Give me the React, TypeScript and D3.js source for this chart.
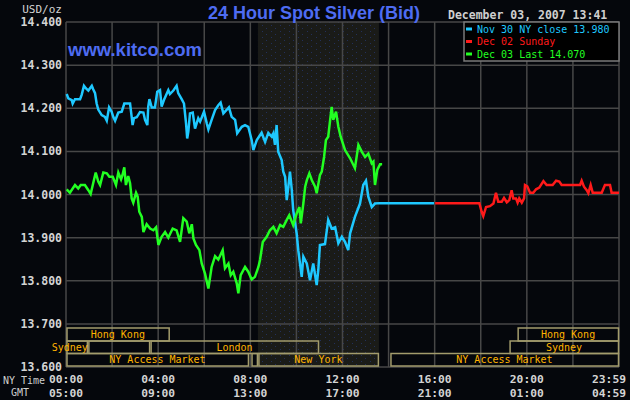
import React from 'react';
import * as d3 from 'd3';

// [hour of NY day, price]
const nov30: [number, number][] = [
  [0.03, 14.233], [0.10, 14.223], [0.25, 14.219], [0.29, 14.211], [0.39, 14.221], [0.61, 14.221],
  [0.68, 14.231], [0.78, 14.252], [0.87, 14.246], [0.97, 14.241], [1.12, 14.252], [1.18, 14.244],
  [1.26, 14.235], [1.33, 14.211], [1.40, 14.197], [1.55, 14.184], [1.69, 14.180], [1.77, 14.171],
  [1.87, 14.202], [1.98, 14.192], [2.05, 14.180], [2.13, 14.171], [2.27, 14.190], [2.42, 14.192],
  [2.53, 14.211], [2.78, 14.211], [2.85, 14.180], [2.89, 14.161], [2.95, 14.177], [3.07, 14.179],
  [3.21, 14.191], [3.36, 14.190], [3.43, 14.173], [3.53, 14.161], [3.57, 14.204], [3.62, 14.221],
  [3.72, 14.202], [3.86, 14.202], [3.96, 14.238], [4.08, 14.242], [4.15, 14.204], [4.25, 14.219],
  [4.44, 14.242], [4.51, 14.233], [4.66, 14.241], [4.80, 14.252], [4.87, 14.235], [5.02, 14.221],
  [5.12, 14.211], [5.21, 14.165], [5.26, 14.130], [5.31, 14.146], [5.38, 14.188], [5.50, 14.190],
  [5.60, 14.153], [5.74, 14.177], [5.82, 14.169], [5.99, 14.192], [6.11, 14.165], [6.18, 14.151],
  [6.32, 14.173], [6.47, 14.196], [6.61, 14.207], [6.71, 14.213], [6.83, 14.188], [6.97, 14.196],
  [7.07, 14.202], [7.19, 14.180], [7.34, 14.173], [7.43, 14.142], [7.63, 14.157], [7.77, 14.161],
  [7.91, 14.157], [8.06, 14.126], [8.13, 14.103], [8.28, 14.126], [8.49, 14.143], [8.64, 14.122],
  [8.78, 14.143], [8.93, 14.134], [9.00, 14.142], [9.07, 14.115], [9.14, 14.161], [9.21, 14.099],
  [9.36, 14.080], [9.43, 14.053], [9.51, 14.041], [9.58, 13.987], [9.65, 14.018], [9.72, 14.053],
  [9.80, 14.010], [9.86, 13.964], [10.01, 13.910], [10.08, 13.871], [10.23, 13.809], [10.30, 13.856],
  [10.45, 13.840], [10.59, 13.801], [10.73, 13.840], [10.88, 13.790], [10.95, 13.825], [11.02, 13.883],
  [11.24, 13.885], [11.38, 13.941], [11.53, 13.921], [11.68, 13.924], [11.82, 13.887], [11.97, 13.902],
  [12.11, 13.890], [12.25, 13.871], [12.33, 13.910], [12.54, 13.948], [12.76, 13.979], [12.90, 14.022],
  [13.02, 14.032], [13.12, 13.995], [13.27, 13.971], [13.41, 13.979], [13.60, 13.980], [15.97, 13.980],
];

const dec02: [number, number][] = [
  [16.02, 13.980], [17.94, 13.980], [18.04, 13.960], [18.11, 13.950], [18.23, 13.971], [18.40, 13.973],
  [18.55, 13.979], [18.66, 14.004], [18.76, 13.983], [18.91, 13.983], [19.01, 13.992], [19.13, 13.982],
  [19.24, 13.987], [19.34, 14.010], [19.41, 13.991], [19.53, 13.991], [19.60, 13.981], [19.67, 13.991],
  [19.78, 13.981], [19.88, 13.991], [19.92, 14.022], [20.02, 14.019], [20.14, 14.004], [20.28, 14.004],
  [20.40, 14.012], [20.54, 14.016], [20.72, 14.031], [20.86, 14.022], [21.12, 14.022], [21.27, 14.032],
  [21.41, 14.030], [21.51, 14.022], [22.31, 14.022], [22.38, 14.032], [22.48, 14.018], [22.60, 14.010],
  [22.67, 14.003], [22.77, 14.022], [22.86, 14.004], [23.25, 14.004], [23.39, 14.022], [23.61, 14.022],
  [23.68, 14.004], [24.0, 14.004],
];

const dec03: [number, number][] = [
  [0.03, 14.012], [0.17, 14.004], [0.39, 14.022], [0.53, 14.014], [0.64, 14.022], [0.82, 14.022],
  [0.97, 14.010], [1.07, 14.001], [1.18, 14.026], [1.29, 14.051], [1.40, 14.030], [1.48, 14.022],
  [1.62, 14.051], [1.77, 14.049], [1.88, 14.041], [2.03, 14.041], [2.17, 14.022], [2.27, 14.051],
  [2.39, 14.035], [2.44, 14.043], [2.53, 14.063], [2.60, 14.022], [2.70, 14.043], [2.78, 14.026],
  [2.85, 13.991], [2.92, 13.981], [3.04, 14.004], [3.11, 13.995], [3.18, 13.960], [3.29, 13.948],
  [3.36, 13.913], [3.50, 13.931], [3.65, 13.921], [3.79, 13.917], [3.91, 13.924], [4.01, 13.883],
  [4.15, 13.902], [4.30, 13.913], [4.44, 13.900], [4.63, 13.921], [4.80, 13.917], [4.95, 13.890],
  [5.09, 13.945], [5.24, 13.937], [5.35, 13.910], [5.46, 13.931], [5.53, 13.898], [5.64, 13.883],
  [5.79, 13.871], [5.89, 13.840], [6.03, 13.817], [6.18, 13.782], [6.32, 13.832], [6.47, 13.857],
  [6.61, 13.849], [6.80, 13.871], [6.90, 13.829], [7.05, 13.840], [7.15, 13.813], [7.26, 13.821],
  [7.41, 13.794], [7.48, 13.771], [7.58, 13.813], [7.77, 13.832], [7.91, 13.821], [8.06, 13.803],
  [8.20, 13.809], [8.28, 13.821], [8.35, 13.832], [8.42, 13.848], [8.54, 13.890], [8.71, 13.902],
  [8.85, 13.917], [9.00, 13.925], [9.14, 13.910], [9.29, 13.929], [9.43, 13.925], [9.58, 13.941],
  [9.69, 13.952], [9.80, 13.937], [9.86, 13.929], [10.01, 13.956], [10.13, 13.971], [10.19, 13.933],
  [10.30, 13.979], [10.38, 14.018], [10.45, 14.033], [10.56, 14.049], [10.67, 14.033], [10.81, 14.018],
  [10.88, 14.003], [11.02, 14.045], [11.10, 14.053], [11.20, 14.087], [11.28, 14.126], [11.38, 14.134],
  [11.53, 14.203], [11.60, 14.173], [11.72, 14.192], [11.82, 14.157], [11.92, 14.134], [12.11, 14.103],
  [12.33, 14.084], [12.54, 14.061], [12.69, 14.115], [12.84, 14.099], [12.98, 14.087], [13.12, 14.095],
  [13.27, 14.072], [13.34, 14.076], [13.41, 14.022], [13.51, 14.057], [13.63, 14.070], [13.72, 14.070],
];

const priceTicks = [13.6, 13.7, 13.8, 13.9, 14.0, 14.1, 14.2, 14.3, 14.4];
const gridHours = [0, 2, 4, 6, 8, 10, 12, 14, 16, 18, 20, 22, 24];
const timeTicks = [0, 4, 8, 12, 16, 20, 24];
const nyLabels = ['00:00', '04:00', '08:00', '12:00', '16:00', '20:00', '23:59'];
const gmtLabels = ['05:00', '09:00', '13:00', '17:00', '21:00', '01:00', '04:59'];

const legendItems = [
  { text: 'Nov 30 NY close 13.980', color: '#1ec8ff' },
  { text: 'Dec 02 Sunday', color: '#ff1a1a' },
  { text: 'Dec 03 Last 14.070', color: '#22ff22' },
];

// market sessions: row, start hour, end hour, label
const markets = [
  { row: 0, start: 0, end: 4.5, label: 'Hong Kong' },
  { row: 0, start: 19.58, end: 24, label: 'Hong Kong' },
  { row: 1, start: 0, end: 0.95, label: 'Sydney', anchorEnd: true },
  { row: 1, start: 0.95, end: 3.65, label: '' },
  { row: 1, start: 3.65, end: 10.98, label: 'London' },
  { row: 1, start: 19.23, end: 24, label: 'Sydney' },
  { row: 2, start: 0, end: 7.94, label: 'NY Access Market' },
  { row: 2, start: 8.03, end: 8.33, label: '' },
  { row: 2, start: 8.33, end: 13.58, label: 'New York' },
  { row: 2, start: 14.06, end: 24, label: 'NY Access Market' },
];
const nySession = [8.33, 13.58];

const W = 630;
const H = 400;
const left = 66;
const right = 619;
const top = 22;
const bottom = 367;
const mono = "'DejaVu Sans Mono', monospace";
const sans = "'Liberation Sans', Arial, sans-serif";

export default function App() {
  const x = d3.scaleLinear().domain([0, 24]).range([left, right]);
  const y = d3.scaleLinear().domain([13.6, 14.4]).range([bottom, top]);
  const line = d3.line<[number, number]>().x(d => x(d[0])).y(d => y(d[1]));
  const rowY = [328, 341, 353.5];
  const rowH = [13, 12.5, 12.5];

  return (
    <svg width={W} height={H} style={{ position: 'absolute', left: 0, top: 0 }}>
      <defs>
        <pattern id="dots" width="9" height="6" patternUnits="userSpaceOnUse">
          <rect width="9" height="6" fill="#1a1b18" />
          <rect x="1" y="1" width="1" height="1" fill="#23305a" />
          <rect x="5" y="4" width="1" height="1" fill="#23305a" />
        </pattern>
      </defs>
      <rect width={W} height={H} fill="#05070c" />
      <rect x={x(nySession[0])} y={top} width={x(nySession[1]) - x(nySession[0])} height={bottom - top} fill="url(#dots)" />

      {priceTicks.map(t => (
        <line key={'h' + t} x1={left} x2={right} y1={y(t)} y2={y(t)} stroke="#474747" strokeWidth={1.5} />
      ))}
      {gridHours.map(h => (
        <line key={'v' + h} x1={x(h)} x2={x(h)} y1={top} y2={bottom} stroke="#474747" strokeWidth={1.5} />
      ))}

      {priceTicks.map(t => (
        <text key={'l' + t} x={62} y={y(t)} dy="0.35em" textAnchor="end" fontFamily={mono} fontSize={11.5}
          fontWeight="bold" fill="#d4d4d4">{t.toFixed(3)}</text>
      ))}
      <text x={62} y={13} textAnchor="end" fontFamily={mono} fontSize={11} fill="#d4d4d4">USD/oz</text>

      <text x={314} y={19} textAnchor="middle" fontFamily={sans} fontSize={18}
        fontWeight="bold" fill="#4e6cf2">24 Hour Spot Silver (Bid)</text>
      <text x={68} y={56} fontFamily={sans} fontSize={18.5} fontWeight="bold"
        fill="#4e6cf2">www.kitco.com</text>
      <text x={448} y={19} fontFamily={mono} fontSize={11.5} fontWeight="bold" fill="#cfcfcf">December 03, 2007 13:41</text>

      {markets.map((m, i) => (
        <g key={'m' + i}>
          <rect x={x(m.start) + 1} y={rowY[m.row]} width={x(m.end) - x(m.start) - 1.5} height={rowH[m.row]}
            fill="none" stroke="#a39c6c" strokeWidth={1.5} />
          {m.label && (
            <text x={m.anchorEnd ? x(m.end) : (x(m.start) + x(m.end)) / 2} y={rowY[m.row] + rowH[m.row] / 2}
              dy="0.36em" textAnchor={m.anchorEnd ? 'end' : 'middle'} fontFamily={mono} fontSize={10}
              fill="#ffb400">{m.label}</text>
          )}
        </g>
      ))}

      <path d={line(nov30) ?? ''} fill="none" stroke="#1ec8ff" strokeWidth={2.5} />
      <path d={line(dec02) ?? ''} fill="none" stroke="#ff1a1a" strokeWidth={2.5} />
      <path d={line(dec03) ?? ''} fill="none" stroke="#22ff22" strokeWidth={2.5} />

      <rect x={464} y={top} width={right - 464} height={39} fill="#000" stroke="#7a7a7a" strokeWidth={1.5} />
      {legendItems.map((d, i) => (
        <g key={'g' + i}>
          <rect x={466} y={27.5 + i * 12.5} width={6} height={3} fill={d.color} />
          <text x={477} y={29 + i * 12.5} dy="0.35em" fontFamily={mono} fontSize={10} fill={d.color}>{d.text}</text>
        </g>
      ))}

      <text x={24} y={384} textAnchor="middle" fontFamily={mono} fontSize={10} fill="#cfcfcf">NY Time</text>
      <text x={20} y={396} textAnchor="middle" fontFamily={mono} fontSize={10} fill="#cfcfcf">GMT</text>
      {timeTicks.map((h, i) => (
        <g key={'t' + h}>
          <text x={h === 24 ? 626 : x(h)} y={383} textAnchor={h === 24 ? 'end' : 'middle'} fontFamily={mono}
            fontSize={11.3} fontWeight="bold" fill="#d4d4d4">{nyLabels[i]}</text>
          <text x={h === 24 ? 626 : x(h)} y={397} textAnchor={h === 24 ? 'end' : 'middle'} fontFamily={mono}
            fontSize={11.3} fontWeight="bold" fill="#d4d4d4">{gmtLabels[i]}</text>
        </g>
      ))}
    </svg>
  );
}
